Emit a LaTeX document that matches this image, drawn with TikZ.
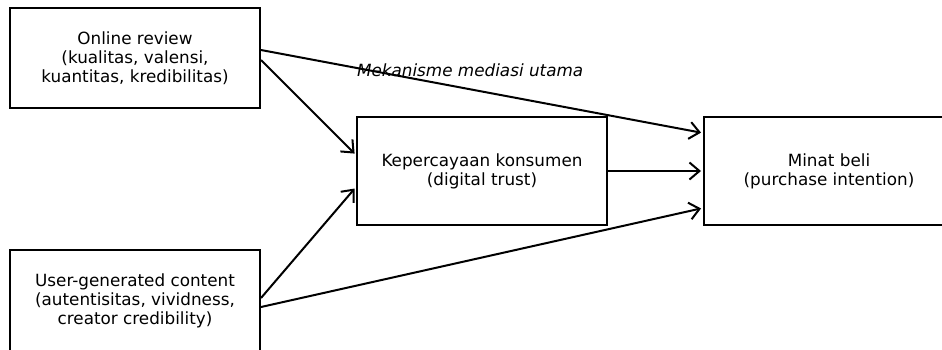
\documentclass[tikz,border=0pt]{standalone}
\usepackage{fontspec}
\setmainfont{DejaVu Sans}
\usetikzlibrary{arrows.meta}

\begin{document}
\begin{tikzpicture}[x=1pt, y=-1pt, line width=2pt,
    main/.style = {draw, rectangle, minimum width=250pt, minimum height=100pt, align=center, font=\fontsize{16.8}{19}\selectfont},
    link/.style = {-{Straight Barb[length=10pt, width=17pt, line width=2pt]}, shorten >=2pt}]

    \useasboundingbox (0,0) rectangle (942,349);
    \clip (0,0) rectangle (942,349);

    \node[main] (or) at (135,58) {Online review\\(kualitas, valensi,\\kuantitas, kredibilitas)};
    \node[main, minimum height=102pt] (ugc) at (135,301) {User-generated content\\(autentisitas, vividness,\\creator credibility)};
    \node[main, minimum height=108pt] (kk) at (482,171) {Kepercayaan konsumen\\(digital trust)};
    \node[main, minimum height=108pt] (mb) at (829,171) {Minat beli\\(purchase intention)};

    \node[font=\fontsize{16.8}{19}\selectfont\itshape, anchor=west, inner sep=0pt] (lbl) at (356,70) {Mekanisme mediasi utama};

    \draw[link] ([yshift=8pt]or.east) -- ([yshift=38pt]mb.west);
    \draw[link] ([yshift=-2pt]or.east) -- ([yshift=16pt]kk.west);
    \draw[link] ([yshift=3pt]ugc.east) -- ([yshift=-16pt]kk.west);
    \draw[link] ([yshift=-6pt]ugc.east) -- ([yshift=-37pt]mb.west);
    \draw[link] (kk) -- (mb);
\end{tikzpicture}
\end{document}
